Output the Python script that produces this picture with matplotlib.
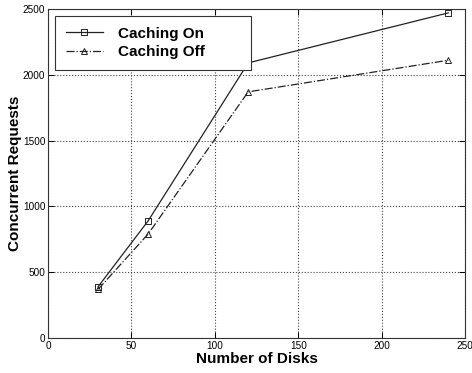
import matplotlib
matplotlib.use("Agg")
import matplotlib.pyplot as plt

plt.rcParams['font.family'] = ['Liberation Sans', 'DejaVu Sans']

disks = [30, 60, 120, 240]
caching_on = [390, 890, 2090, 2470]
caching_off = [370, 790, 1870, 2110]
xticks = [0, 50, 100, 150, 200, 250]
yticks = [0, 500, 1000, 1500, 2000, 2500]

fig = plt.figure(figsize=(4.72, 3.73), dpi=100)
ax = fig.add_axes([0.102, 0.094, 0.883, 0.882])

ax.plot(disks, caching_on, '-', color='#222222', lw=0.9, marker='s', ms=5,
        mfc='none', mec='#222222', mew=0.7, label='Caching On')
ax.plot(disks, caching_off, '-.', color='#222222', lw=0.9, marker='^', ms=5,
        mfc='none', mec='#222222', mew=0.7, label='Caching Off')

ax.set_xlim(0, 250)
ax.set_ylim(0, 2500)
ax.set_xticks(xticks)
ax.set_yticks(yticks)
ax.tick_params(labelsize=7.2, direction='in', length=4, width=0.7, top=True, right=True, pad=2)
ax.grid(True, linestyle=':', color='#444444', lw=0.8)
for s in ax.spines.values():
    s.set_linewidth(0.8)
    s.set_color('#333333')

ax.set_xlabel('Number of Disks', fontsize=11, fontweight='bold', labelpad=1)
ax.set_ylabel('Concurrent Requests', fontsize=11, fontweight='bold')
ax.yaxis.set_label_coords(-0.062, 0.5)

leg = ax.legend(loc='upper left', prop={'weight': 'bold', 'size': 11},
                frameon=True, fancybox=False, edgecolor='#333333', framealpha=1,
                borderpad=0.7, handlelength=2.4, handletextpad=1.0, labelspacing=0.3,
                mode='expand', borderaxespad=0,
                bbox_to_anchor=(0.017, 0.0, 0.47, 0.979))
leg.get_frame().set_linewidth(0.8)

fig.savefig('out.png', dpi=100)
